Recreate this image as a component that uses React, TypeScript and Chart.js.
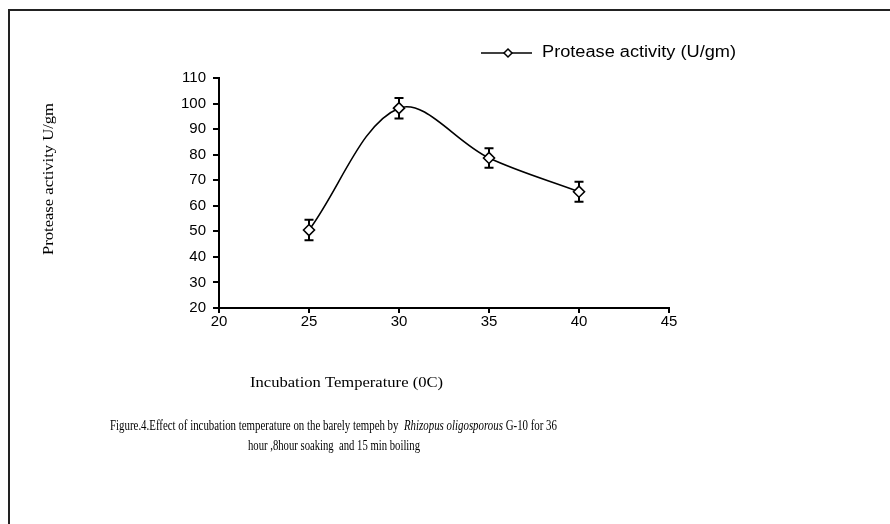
import React, { useEffect, useRef } from "react";
import { Chart, registerables } from "chart.js";

Chart.register(...registerables);

// ---- data ----
const temperatures = [25, 30, 35, 40];
const activity = [50.5, 98.2, 78.7, 65.5];
const errors = [4, 4, 3.8, 3.9];
const xTickValues = [20, 25, 30, 35, 40, 45];
const yTickValues = [20, 30, 40, 50, 60, 70, 80, 90, 100, 110];
const seriesLabel = "Protease activity (U/gm)";
const yTitle = "Protease activity U/gm";
const xTitle = "Incubation Temperature (0C)";
const captionA = "Figure.4.Effect of incubation temperature on the barely tempeh by  ";
const captionItalic = "Rhizopus oligosporous";
const captionB = " G-10 for 36";
const captionLine2 = "hour ,8hour soaking  and 15 min boiling";

const SANS = "'Liberation Sans', Arial, sans-serif";
const SERIF = "'Liberation Serif', 'Times New Roman', serif";

type Seg = { text: string; font: string };

function drawFitted(ctx: CanvasRenderingContext2D, segs: Seg[], x: number, y: number, width: number) {
  let total = 0;
  const widths = segs.map((s) => {
    ctx.font = s.font;
    const w = ctx.measureText(s.text).width;
    total += w;
    return w;
  });
  const sx = width / total;
  ctx.save();
  ctx.translate(x, y);
  ctx.scale(sx, 1);
  ctx.textAlign = "left";
  ctx.textBaseline = "middle";
  ctx.fillStyle = "#000";
  let cx = 0;
  segs.forEach((s, i) => {
    ctx.font = s.font;
    ctx.fillText(s.text, cx, 0);
    cx += widths[i];
  });
  ctx.restore();
}

const errorBarPlugin = {
  id: "errorBars",
  beforeDatasetsDraw(chart: any) {
    const ctx: CanvasRenderingContext2D = chart.ctx;
    const xs = chart.scales.x;
    const ys = chart.scales.y;
    ctx.save();
    ctx.strokeStyle = "#000";
    ctx.lineWidth = 2;
    temperatures.forEach((t, i) => {
      const px = xs.getPixelForValue(t);
      const top = ys.getPixelForValue(activity[i] + errors[i]);
      const bot = ys.getPixelForValue(activity[i] - errors[i]);
      ctx.beginPath();
      ctx.moveTo(px, top);
      ctx.lineTo(px, bot);
      ctx.moveTo(px - 4.5, top);
      ctx.lineTo(px + 4.5, top);
      ctx.moveTo(px - 4.5, bot);
      ctx.lineTo(px + 4.5, bot);
      ctx.stroke();
    });
    ctx.restore();
  },
};

const decorPlugin = {
  id: "decor",
  afterDraw(chart: any) {
    const ctx: CanvasRenderingContext2D = chart.ctx;
    ctx.save();
    // frame (left & top)
    ctx.strokeStyle = "#222";
    ctx.lineWidth = 2;
    ctx.beginPath();
    ctx.moveTo(9, 524);
    ctx.lineTo(9, 10);
    ctx.lineTo(890, 10);
    ctx.stroke();

    // legend
    ctx.strokeStyle = "#000";
    ctx.lineWidth = 1.5;
    ctx.beginPath();
    ctx.moveTo(481, 53);
    ctx.lineTo(532, 53);
    ctx.stroke();
    ctx.beginPath();
    ctx.moveTo(508, 49);
    ctx.lineTo(512, 53);
    ctx.lineTo(508, 57);
    ctx.lineTo(504, 53);
    ctx.closePath();
    ctx.fillStyle = "#fff";
    ctx.fill();
    ctx.stroke();
    drawFitted(ctx, [{ text: seriesLabel, font: `16px ${SANS}` }], 542, 53, 194);

    // y title
    ctx.save();
    ctx.translate(49, 255);
    ctx.rotate(-Math.PI / 2);
    drawFitted(ctx, [{ text: yTitle, font: `14px ${SERIF}` }], 0, 0, 152);
    ctx.restore();

    // x title
    drawFitted(ctx, [{ text: xTitle, font: `14px ${SERIF}` }], 250, 383, 193);

    // caption
    drawFitted(
      ctx,
      [
        { text: captionA, font: `14px ${SERIF}` },
        { text: captionItalic, font: `italic 14px ${SERIF}` },
        { text: captionB, font: `14px ${SERIF}` },
      ],
      110,
      426,
      447
    );
    drawFitted(ctx, [{ text: captionLine2, font: `14px ${SERIF}` }], 248, 446, 172);
    ctx.restore();
  },
};

export default function App() {
  const ref = useRef<HTMLCanvasElement>(null);
  useEffect(() => {
    if (!ref.current) return;
    const chart = new Chart(ref.current, {
      type: "line",
      data: {
        datasets: [
          {
            label: seriesLabel,
            data: temperatures.map((t, i) => ({ x: t, y: activity[i] })),
            borderColor: "#000",
            borderWidth: 1.6,
            tension: 0.35,
            fill: false,
            pointStyle: "rectRot",
            pointRadius: 5.5,
            pointBackgroundColor: "#fff",
            pointBorderColor: "#000",
            pointBorderWidth: 1.6,
          },
        ],
      },
      options: {
        animation: false,
        responsive: false,
        devicePixelRatio: 1,
        layout: { padding: { top: 78, right: 221, left: 0, bottom: 0 } },
        plugins: { legend: { display: false }, tooltip: { enabled: false } },
        scales: {
          x: {
            type: "linear",
            min: 20,
            max: 45,
            afterBuildTicks: (s: any) => {
              s.ticks = xTickValues.map((v) => ({ value: v }));
            },
            afterFit: (s: any) => {
              s.height = 216;
            },
            grid: { drawOnChartArea: false, drawTicks: true, tickLength: 5, color: "#000", lineWidth: 2 },
            border: { display: true, color: "#000", width: 2 },
            ticks: { color: "#000", font: { family: SANS, size: 15 }, padding: 0, maxRotation: 0 },
          },
          y: {
            type: "linear",
            min: 20,
            max: 110,
            afterBuildTicks: (s: any) => {
              s.ticks = yTickValues.map((v) => ({ value: v }));
            },
            afterFit: (s: any) => {
              s.width = 219;
            },
            grid: { drawOnChartArea: false, drawTicks: true, tickLength: 6, color: "#000", lineWidth: 2 },
            border: { display: true, color: "#000", width: 2 },
            ticks: { color: "#000", font: { family: SANS, size: 15 }, padding: 7 },
          },
        },
      },
      plugins: [errorBarPlugin, decorPlugin],
    });
    return () => chart.destroy();
  }, []);
  return (
    <div style={{ position: "fixed", left: 0, top: 0, width: 890, height: 524, background: "#fff" }}>
      <canvas ref={ref} width={890} height={524} style={{ width: 890, height: 524, display: "block" }} />
    </div>
  );
}
